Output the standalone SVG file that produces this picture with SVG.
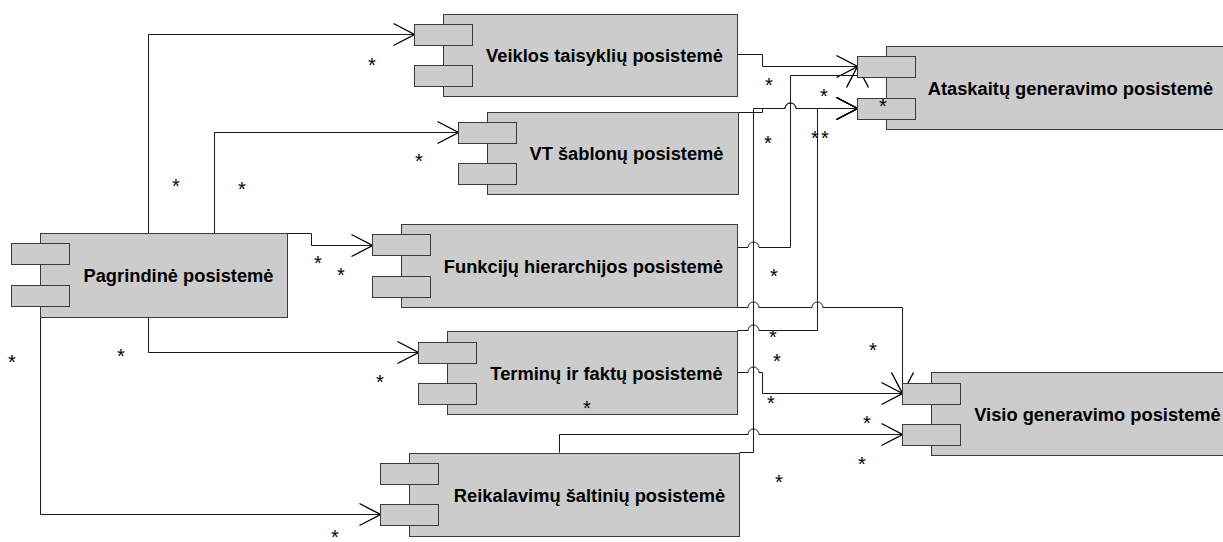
<svg xmlns="http://www.w3.org/2000/svg" width="1223" height="542" viewBox="0 0 1223 542">
  <style>
    .body { fill: #cccccc; stroke: #3a3a3a; stroke-width: 1; }
    .tab { fill: #cccccc; stroke: #3a3a3a; stroke-width: 1; }
    .label { font-family: "Liberation Sans", Arial, sans-serif; font-size: 18.3px; font-weight: bold; fill: #000; text-anchor: middle; }
    .conn { fill: none; stroke: #1a1a1a; stroke-width: 1; marker-end: url(#arrow); }
    .mult { font-family: "Liberation Sans", Arial, sans-serif; font-size: 20px; fill: #000; text-anchor: middle; }
  </style>
  <defs>
    <marker id="arrow" markerUnits="userSpaceOnUse" viewBox="-25 -15 30 30" markerWidth="30" markerHeight="30" refX="0" refY="0" orient="auto" overflow="visible">
      <path d="M-21,-11 L0,0 L-21,11" fill="none" stroke="#000" stroke-width="1.4"/>
    </marker>
  </defs>
  <rect width="1223" height="542" fill="#ffffff"/>

  <g transform="translate(0.5,0.5)">
    <!-- connectors (horizontal runs hop over crossing verticals) -->
    <g id="connectors">
      <path class="conn" d="M148,233 V34 H414"/>
      <path class="conn" d="M214,233 V132 H458"/>
      <path class="conn" d="M287,233 H311 V245 H372"/>
      <path class="conn" d="M148,317 V352 H418"/>
      <path class="conn" d="M40,317 V514 H380"/>
      <path class="conn" d="M737,54 H762 V66 H857"/>
      <path class="conn" d="M737,247 H747.5 a5.5,5.5 0 0 1 11,0 H790 V75 H857 V66"/>
      <path class="conn" d="M738,112 H762 V108 H784.5 a5.5,5.5 0 0 1 11,0 H857"/>
      <path class="conn" d="M737,330 H747.5 a5.5,5.5 0 0 1 11,0 H817 V108 H857"/>
      <path class="conn" d="M739,452 H753 V108 H784.5 a5.5,5.5 0 0 1 11,0 H857"/>
      <path class="conn" d="M737,307 H747.5 a5.5,5.5 0 0 1 11,0 H811.5 a5.5,5.5 0 0 1 11,0 H902 V393"/>
      <path class="conn" d="M737,372 H747.5 a5.5,5.5 0 0 1 11,0 H762 V393 H902"/>
      <path class="conn" d="M559,452 V434 H747.5 a5.5,5.5 0 0 1 11,0 H902"/>
    </g>

    <g id="pagrindine">
      <rect class="body" x="40" y="233" width="247" height="84"/>
      <rect class="tab" x="11" y="243" width="58" height="21"/>
      <rect class="tab" x="11" y="285" width="58" height="21"/>
      <text class="label" x="178" y="281">Pagrindinė posistemė</text>
    </g>

    <g id="veiklos">
      <rect class="body" x="443" y="14" width="294" height="82"/>
      <rect class="tab" x="414" y="24" width="58" height="21"/>
      <rect class="tab" x="414" y="65" width="58" height="21"/>
      <text class="label" x="604" y="61">Veiklos taisyklių posistemė</text>
    </g>

    <g id="vt-sablonai">
      <rect class="body" x="487" y="112" width="251" height="82"/>
      <rect class="tab" x="458" y="122" width="58" height="21"/>
      <rect class="tab" x="458" y="163" width="58" height="21"/>
      <text class="label" x="626" y="159">VT šablonų posistemė</text>
    </g>

    <g id="funkcijos">
      <rect class="body" x="401" y="224" width="336" height="83"/>
      <rect class="tab" x="372" y="234" width="58" height="21"/>
      <rect class="tab" x="372" y="276" width="58" height="21"/>
      <text class="label" x="583" y="272">Funkcijų hierarchijos posistemė</text>
    </g>

    <g id="terminai">
      <rect class="body" x="447" y="331" width="290" height="83"/>
      <rect class="tab" x="418" y="342" width="58" height="21"/>
      <rect class="tab" x="418" y="383" width="58" height="21"/>
      <text class="label" x="606" y="379">Terminų ir faktų posistemė</text>
    </g>

    <g id="reikalavimai">
      <rect class="body" x="409" y="453" width="330" height="83"/>
      <rect class="tab" x="380" y="463" width="58" height="21"/>
      <rect class="tab" x="380" y="504" width="58" height="21"/>
      <text class="label" x="589" y="501">Reikalavimų šaltinių posistemė</text>
    </g>

    <g id="ataskaitos">
      <rect class="body" x="886" y="46" width="345" height="83"/>
      <rect class="tab" x="857" y="56" width="58" height="21"/>
      <rect class="tab" x="857" y="98" width="58" height="21"/>
      <text class="label" x="1070" y="94">Ataskaitų generavimo posistemė</text>
    </g>

    <g id="visio">
      <rect class="body" x="931" y="372" width="310" height="83"/>
      <rect class="tab" x="902" y="383" width="58" height="21"/>
      <rect class="tab" x="902" y="424" width="58" height="21"/>
      <text class="label" x="1097" y="420">Visio generavimo posistemė</text>
    </g>
  </g>

  <!-- multiplicities -->
  <g id="multiplicities" class="mult">
    <text x="372" y="72">*</text>
    <text x="176" y="193">*</text>
    <text x="242" y="196">*</text>
    <text x="419" y="168">*</text>
    <text x="769" y="92">*</text>
    <text x="824" y="103">*</text>
    <text x="883" y="113">*</text>
    <text x="768" y="150">*</text>
    <text x="815" y="145">*</text>
    <text x="825" y="145">*</text>
    <text x="774" y="283">*</text>
    <text x="773" y="344">*</text>
    <text x="873" y="357">*</text>
    <text x="777" y="368">*</text>
    <text x="771" y="410">*</text>
    <text x="867" y="430">*</text>
    <text x="862" y="471">*</text>
    <text x="779" y="489">*</text>
    <text x="318" y="270">*</text>
    <text x="341" y="282">*</text>
    <text x="12" y="369">*</text>
    <text x="121" y="363">*</text>
    <text x="380" y="389">*</text>
    <text x="335" y="544">*</text>
    <text x="587" y="415">*</text>
  </g>
</svg>
